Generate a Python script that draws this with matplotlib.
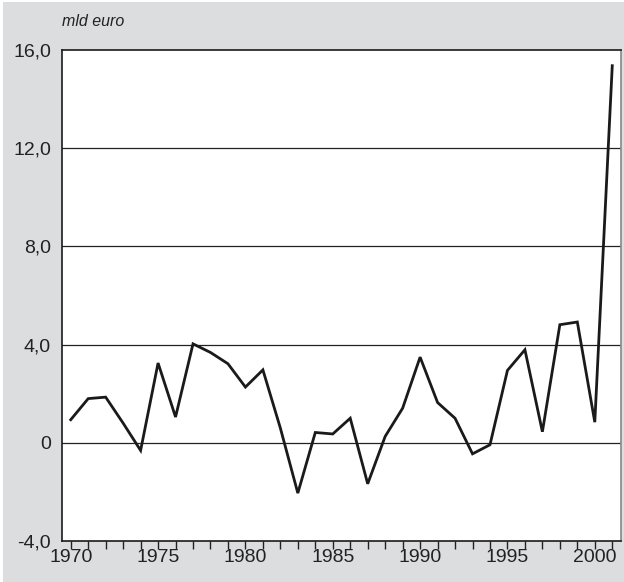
import matplotlib
matplotlib.use('Agg')
import matplotlib.pyplot as plt
from matplotlib.patches import Rectangle
from matplotlib.ticker import FuncFormatter

plt.rcParams['font.family'] = ['Liberation Sans', 'DejaVu Sans']

# valori annui (mld euro)
years = list(range(1970, 2002))
values = [0.94, 1.80, 1.86, 0.80, -0.31, 3.25, 1.05, 4.03, 3.68, 3.22,
          2.27, 2.97, 0.60, -2.05, 0.42, 0.36, 1.00, -1.67, 0.26, 1.41,
          3.49, 1.64, 1.00, -0.45, -0.08, 2.95, 3.79, 0.45, 4.81, 4.92,
          0.84, 15.36]
yticks = [-4, 0, 4, 8, 12, 16]
grid_levels = [0, 4, 8, 12]
xlabel_years = [1970, 1975, 1980, 1985, 1990, 1995, 2000]

bg = '#dcdddf'


def fmt(v, p):
    if v == 0:
        return '0'
    return f'{v:.1f}'.replace('.', ',')


fig = plt.figure(figsize=(6.24, 5.82), dpi=100, facecolor='white')
fig.patches.append(Rectangle((3 / 624, 0), 1, 1 - 2 / 582, transform=fig.transFigure,
                             facecolor=bg, edgecolor='none', zorder=-10))

ax = fig.add_axes([62 / 624, 41 / 582, 559 / 624, 491 / 582])
ax.set_facecolor('white')

for g in grid_levels:
    ax.axhline(g, color='#222222', lw=0.9, zorder=1)

ax.plot(years, values, color='#1a1a1a', lw=2.0, zorder=3, solid_joinstyle='miter')

ax.set_xlim(1969.5, 2001.5)
ax.set_ylim(-4, 16)
ax.set_yticks(yticks)
ax.yaxis.set_major_formatter(FuncFormatter(fmt))
ax.tick_params(axis='y', length=0, pad=8, labelsize=14, colors='#222222')

ax.set_xticks(years)
ax.set_xticklabels([str(y) if y in xlabel_years else '' for y in years])
ax.tick_params(axis='x', direction='out', length=6, width=1, pad=0, labelsize=14,
               colors='#222222')

for side in ['left', 'bottom', 'top']:
    ax.spines[side].set_color('#1a1a1a')
    ax.spines[side].set_linewidth(1.2)
ax.spines['right'].set_color('#888888')
ax.spines['right'].set_linewidth(1.2)

fig.text(62 / 624, 1 - 22 / 582, 'mld euro', fontsize=11.5, style='italic',
         color='#222222', va='center', ha='left')

fig.savefig('out.png', dpi=100, facecolor=fig.get_facecolor())
